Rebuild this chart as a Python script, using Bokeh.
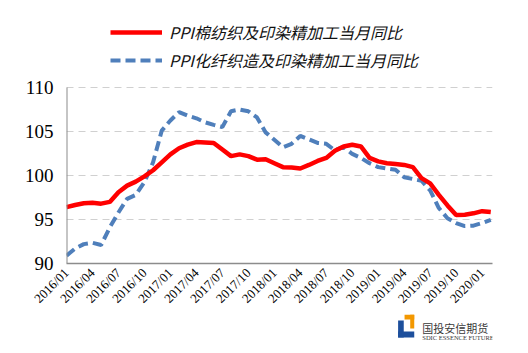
import pandas as pd
from bokeh.plotting import figure
from bokeh.layouts import column
from bokeh.models import (Range1d, FixedTicker, Legend, LegendItem,
                          ColumnDataSource)
from bokeh.core.properties import value
from bokeh.embed import file_html
from bokeh.resources import INLINE

# ---- data ----
months = [d.strftime("%Y/%m") for d in pd.period_range("2016-01", "2020-02", freq="M")]

cotton = [96.4, 96.65, 96.85, 96.9, 96.8, 97.0, 98.1, 98.85, 99.3, 99.9,
          100.6, 101.5, 102.4, 103.1, 103.5, 103.8, 103.75, 103.7, 102.95, 102.2,
          102.4, 102.2, 101.8, 101.85, 101.4, 100.95, 100.9, 100.8, 101.2, 101.65,
          102.0, 102.8, 103.3, 103.5, 103.3, 102.0, 101.6, 101.4, 101.3, 101.2,
          100.95, 99.7, 99.1, 97.8, 96.6, 95.5, 95.55, 95.7, 95.95, 95.85]

fiber = [90.9, 91.7, 92.2, 92.35, 92.1, 94.1, 95.8, 97.35, 97.8, 99.25,
         101.5, 105.1, 106.25, 107.2, 106.8, 106.5, 106.05, 105.75, 105.5, 107.3,
         107.5, 107.3, 106.6, 104.9, 104.05, 103.2, 103.6, 104.5, 104.1, 103.7,
         103.6, 102.85, 103.25, 102.45, 102.0, 101.4, 100.95, 100.8, 100.65, 99.8,
         99.6, 99.4, 98.3, 96.3, 95.15, 94.6, 94.25, 94.3, 94.6, 94.95]

name_cotton = "PPI棉纺织及印染精加工当月同比"
name_fiber = "PPI化纤织造及印染精加工当月同比"

y_ticks = [90, 95, 100, 105, 110]
x_tick_idx = list(range(0, len(months), 3))

logo_cn = "国投安信期货"
logo_en = "SDIC ESSENCE FUTURES"

src = ColumnDataSource(dict(x=list(range(len(months))), month=months,
                            cotton=cotton, fiber=fiber))

W = 528
H_MAIN, H_LOGO = 314, 39
FL, FR, FT, FB = 66, 36, 4, H_MAIN - 263
PX_PER_UNIT = 8.8           # 5 units = 44 px
Y_TOP = 110 + (87 - FT) / PX_PER_UNIT

p = figure(width=W, height=H_MAIN, output_backend="svg", toolbar_location=None,
           x_range=Range1d(0, 49.2), y_range=Range1d(90, Y_TOP),
           min_border_left=FL, min_border_right=FR,
           min_border_top=FT, min_border_bottom=FB)
p.outline_line_color = None
p.background_fill_color = "white"
p.border_fill_color = "white"

r_fiber = p.line("x", "fiber", source=src, line_color="#4F7FBB", line_width=4,
                 line_dash="10 5")
r_cotton = p.line("x", "cotton", source=src, line_color="#FF0000", line_width=4.5)

# value axis line only spans 90..110
p.segment(x0=[0], y0=[y_ticks[0]], x1=[0], y1=[y_ticks[-1]],
          line_color="#8C8C8C", line_width=2)

# axes
p.xgrid.visible = False
p.ygrid.grid_line_color = "#D0D0D0"
p.ygrid.grid_line_dash = "7 5"
p.ygrid.grid_line_width = 1

p.yaxis.ticker = FixedTicker(ticks=y_ticks)
p.yaxis.axis_line_color = None
p.yaxis.major_tick_line_color = None
p.yaxis.minor_tick_line_color = None
p.yaxis.major_tick_out = 0
p.yaxis.major_label_text_font = "Liberation Serif"
p.yaxis.major_label_text_font_size = "19px"
p.yaxis.major_label_text_color = "black"
p.yaxis.major_label_standoff = 13

p.xaxis.ticker = FixedTicker(ticks=x_tick_idx)
p.xaxis.major_label_overrides = {i: months[i] for i in x_tick_idx}
p.xaxis.major_label_orientation = 0.785398
p.xaxis.axis_line_color = "#8C8C8C"
p.xaxis.axis_line_width = 1.5
p.xaxis.major_tick_line_color = None
p.xaxis.minor_tick_line_color = None
p.xaxis.major_tick_out = 0
p.xaxis.major_label_text_font = "Liberation Serif"
p.xaxis.major_label_text_font_size = "13px"
p.xaxis.major_label_text_color = "black"
p.xaxis.major_label_standoff = 7

legend = Legend(items=[LegendItem(label=name_cotton, renderers=[r_cotton]),
                       LegendItem(label=name_fiber, renderers=[r_fiber])],
                location=(44, 263 - 72), orientation="vertical",
                padding=0, margin=0, spacing=4,
                glyph_width=52, glyph_height=24, label_height=24,
                label_standoff=7, border_line_color=None,
                background_fill_alpha=0,
                label_text_font="Noto Sans CJK SC",
                label_text_font_style="italic",
                label_text_font_size="16px", label_text_color="#111111")
p.add_layout(legend, "center")

# ---- company logo strip (pixel coordinates, y downward) ----
q = figure(width=W, height=H_LOGO, output_backend="svg", toolbar_location=None,
           x_range=Range1d(0, W), y_range=Range1d(353, 353 - H_LOGO),
           min_border=0)
q.axis.visible = False
q.grid.visible = False
q.outline_line_color = None
q.background_fill_color = "white"
q.border_fill_color = "white"

q.quad(left=[419, 426], right=[431, 431], top=[314, 314], bottom=[319, 328],
       fill_color="#F39800", line_color=None)
q.quad(left=[411, 411], right=[418, 431], top=[320, 331], bottom=[337, 337],
       fill_color="#1D4F9C", line_color=None)
q.text(x=[441], y=[327.5], text=[logo_cn], text_font=value("Noto Sans CJK SC"),
       text_font_size="11px", text_color="#3A3A3A", text_baseline="middle")
q.text(x=[441], y=[336.5], text=[logo_en], text_font=value("Liberation Sans Narrow"),
       text_font_size="6.5px", text_color="#3A3A3A", text_baseline="middle")

layout = column(p, q, spacing=0)
open("out.html", "w").write(file_html(layout, INLINE))
